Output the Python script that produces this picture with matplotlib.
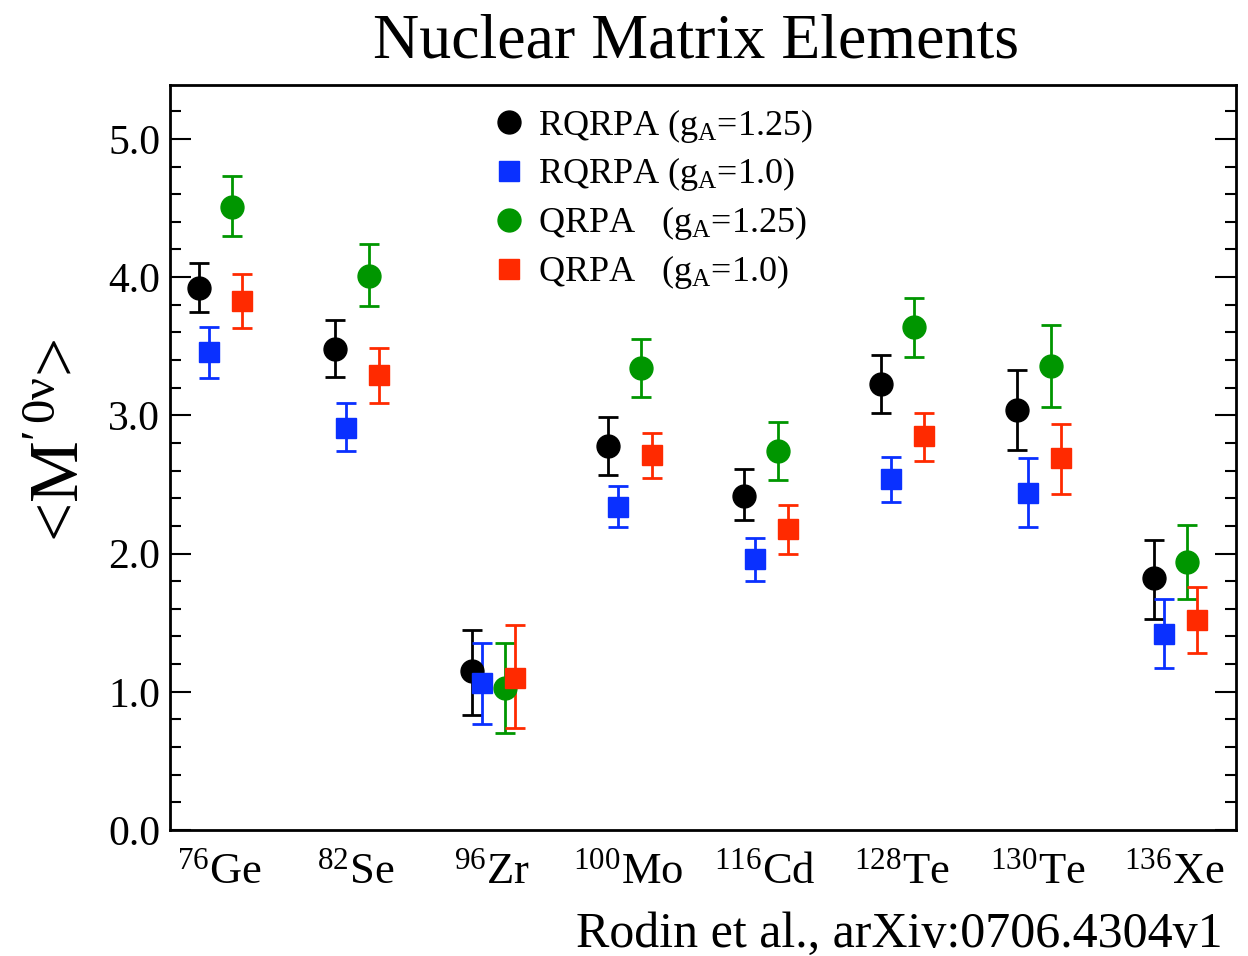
import matplotlib
matplotlib.use('Agg')
import matplotlib.pyplot as plt
from matplotlib.ticker import MultipleLocator, FormatStrFormatter

plt.rcParams['font.family'] = ['Liberation Serif', 'DejaVu Serif']
plt.rcParams['mathtext.fontset'] = 'custom'
plt.rcParams['mathtext.rm'] = 'Liberation Serif'
plt.rcParams['mathtext.it'] = 'Liberation Serif:italic'

# isotopes
mass = ['76', '82', '96', '100', '116', '128', '130', '136']
elem = ['Ge', 'Se', 'Zr', 'Mo', 'Cd', 'Te', 'Te', 'Xe']

# RQRPA (gA=1.25)
rqrpa_125 = [3.92, 3.48, 1.15, 2.78, 2.42, 3.23, 3.04, 1.82]
rqrpa_125_lo = [3.75, 3.28, 0.83, 2.57, 2.24, 3.02, 2.75, 1.53]
rqrpa_125_hi = [4.10, 3.69, 1.45, 2.99, 2.61, 3.44, 3.33, 2.10]

# RQRPA (gA=1.0)
rqrpa_10 = [3.46, 2.91, 1.06, 2.34, 1.96, 2.54, 2.44, 1.42]
rqrpa_10_lo = [3.27, 2.74, 0.77, 2.19, 1.80, 2.37, 2.19, 1.17]
rqrpa_10_hi = [3.64, 3.09, 1.35, 2.49, 2.11, 2.70, 2.69, 1.67]

# QRPA (gA=1.25)
qrpa_125 = [4.51, 4.01, 1.03, 3.34, 2.74, 3.64, 3.36, 1.94]
qrpa_125_lo = [4.30, 3.79, 0.70, 3.13, 2.53, 3.42, 3.06, 1.67]
qrpa_125_hi = [4.73, 4.24, 1.35, 3.55, 2.95, 3.85, 3.65, 2.21]

# QRPA (gA=1.0)
qrpa_10 = [3.83, 3.29, 1.10, 2.71, 2.18, 2.85, 2.69, 1.52]
qrpa_10_lo = [3.63, 3.09, 0.74, 2.55, 2.00, 2.67, 2.43, 1.28]
qrpa_10_hi = [4.02, 3.49, 1.48, 2.87, 2.35, 3.02, 2.94, 1.76]

series = [
    (rqrpa_125, rqrpa_125_lo, rqrpa_125_hi, 0.0, 'o', 'black', r'RQRPA (g$_\mathrm{A}$=1.25)'),
    (rqrpa_10, rqrpa_10_lo, rqrpa_10_hi, 0.077, 's', '#0a30ff', r'RQRPA (g$_\mathrm{A}$=1.0)'),
    (qrpa_125, qrpa_125_lo, qrpa_125_hi, 0.245, 'o', '#009600', r'QRPA   (g$_\mathrm{A}$=1.25)'),
    (qrpa_10, qrpa_10_lo, qrpa_10_hi, 0.32, 's', '#ff2a00', r'QRPA   (g$_\mathrm{A}$=1.0)'),
]

fig = plt.figure(figsize=(12.48, 9.56), dpi=100)
ax = fig.add_axes([0.1362, 0.1318, 0.8542, 0.7793])

idx = list(range(len(elem)))
handles, labels = [], []
for vals, lo, hi, off, mk, col, lab in series:
    xs = [i + off for i in idx]
    err = [[v - l for v, l in zip(vals, lo)], [h - v for v, h in zip(vals, hi)]]
    ms = 16.5 if mk == 'o' else 14.4
    cont = ax.errorbar(xs, vals, yerr=err, fmt=mk, color=col, ms=ms,
                       elinewidth=2.0, capsize=7.5, capthick=2.0)
    handles.append(cont[0])
    labels.append(lab)

ax.set_xlim(-0.211, 7.604)
ax.set_ylim(0, 5.39)

ax.yaxis.set_major_locator(MultipleLocator(1.0))
ax.yaxis.set_minor_locator(MultipleLocator(0.2))
ax.yaxis.set_major_formatter(FormatStrFormatter('%.1f'))
ax.tick_params(axis='y', which='both', direction='in', left=True, right=True, width=1.5)
ax.tick_params(axis='y', which='major', length=15, labelsize=30, pad=7)
ax.tick_params(axis='y', which='minor', length=8)

ax.set_xticks([i + 0.15 for i in idx])
ax.set_xticklabels([r'$^{%s}$%s' % (m, e) for m, e in zip(mass, elem)])
ax.tick_params(axis='x', length=0, labelsize=32, pad=16)

for s in ax.spines.values():
    s.set_linewidth(2)

ax.legend(handles, labels, loc='upper left', bbox_to_anchor=(0.281, 1.0),
          frameon=False, fontsize=26, handlelength=1.0, handletextpad=0.3,
          labelspacing=0.3, borderaxespad=0.2)

fig.text(0.558, 0.94, 'Nuclear Matrix Elements', fontsize=46, ha='center', va='baseline')
fig.text(0.05, 0.54, r'<M$^{\prime\,0\mathrm{\nu}}$>', fontsize=50, rotation=90,
         ha='center', va='center')
fig.text(0.98, 0.01, 'Rodin et al., arXiv:0706.4304v1', fontsize=36, ha='right', va='baseline')

fig.savefig('out.png', dpi=100)
